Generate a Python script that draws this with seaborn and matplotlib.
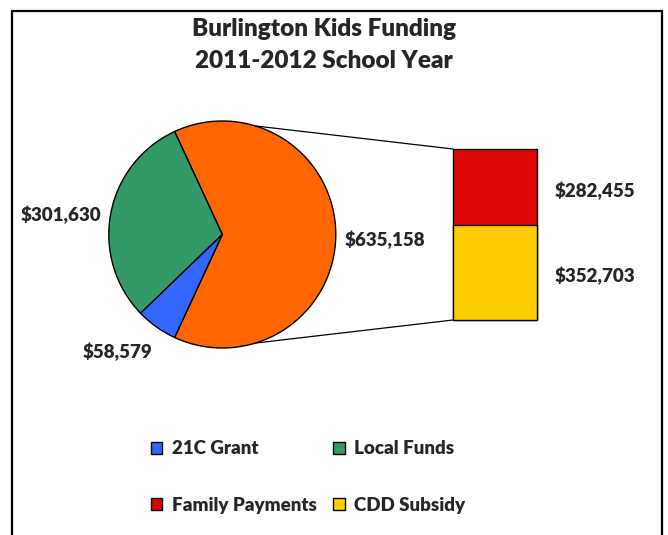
import matplotlib
matplotlib.use("Agg")
import matplotlib.pyplot as plt
from matplotlib.patches import Patch, Rectangle, ConnectionPatch
import numpy as np
import seaborn as sns

# pie slices (the "other" slice is split out in the bar)
pie_labels = ["Other", "Local Funds", "21C Grant"]
pie_values = [635158, 301630, 58579]
pie_colors = ["#FF6600", "#339966", "#3366FF"]

# bar breakdown of the "other" slice, bottom to top
bar_labels = ["CDD Subsidy", "Family Payments"]
bar_values = [352703, 282455]
bar_colors = ["#FFCC00", "#DD0806"]

title = "Burlington Kids Funding\n2011-2012 School Year"

sns.set_theme(style="white")
plt.rcParams["font.family"] = ["Lato", "DejaVu Sans"]
WEIGHT = "heavy"

W, H = 668, 535
fig = plt.figure(figsize=(W / 100, H / 100), dpi=100)
fig.patch.set_facecolor("white")


def box(x0, y0, x1, y1):
    # pixel box (top-left origin) -> figure fraction rect
    return [x0 / W, 1 - y1 / H, (x1 - x0) / W, (y1 - y0) / H]


# pie
cx, cy, r = 222.3, 234.5, 113.5
ax_pie = fig.add_axes(box(cx - r, cy - r, cx + r, cy + r))
frac_other = pie_values[0] / sum(pie_values)
ax_pie.pie(pie_values, colors=pie_colors, startangle=-180 * frac_other,
           counterclock=True, radius=1,
           wedgeprops=dict(edgecolor="black", linewidth=1.0))
ax_pie.set_xlim(-1, 1)
ax_pie.set_ylim(-1, 1)
ax_pie.set_aspect("equal")
ax_pie.axis("off")

fmt = lambda v: "${:,}".format(v)
LS = 13.5
ax_pie.text(1.43, -0.05, fmt(pie_values[0]), ha="center", va="center",
            fontsize=LS, fontweight=WEIGHT)
ax_pie.text(-1.42, 0.17, fmt(pie_values[1]), ha="center", va="center",
            fontsize=LS, fontweight=WEIGHT)
ax_pie.text(-0.92, -1.035, fmt(pie_values[2]), ha="center", va="center",
            fontsize=LS, fontweight=WEIGHT)

# stacked bar
ax_bar = fig.add_axes(box(453, 149, 537, 320))
total = sum(bar_values)
sns.barplot(x=["Other"], y=[total], color=bar_colors[1], width=1,
            saturation=1, ax=ax_bar)
sns.barplot(x=["Other"], y=[bar_values[0]], color=bar_colors[0], width=1,
            saturation=1, ax=ax_bar)
for p in ax_bar.patches:
    p.set_edgecolor("black")
    p.set_linewidth(1.0)
    p.set_clip_on(False)
ax_bar.set_xlim(-0.5, 0.5)
ax_bar.set_ylim(0, total)
ax_bar.axis("off")

trans = ax_bar.get_yaxis_transform()
bottoms = np.cumsum([0] + bar_values[:-1])
for b, v in zip(bottoms, bar_values):
    ax_bar.text(1.69, b + v / 2 - total * 0.02, fmt(v), transform=trans,
                ha="center", va="center", fontsize=LS, fontweight=WEIGHT)

# connector lines
ang = np.deg2rad(73)
for sgn, ycorner in [(1, total), (-1, 0)]:
    con = ConnectionPatch(xyA=(np.cos(ang), sgn * np.sin(ang)), coordsA=ax_pie.transData,
                          xyB=(-0.5, ycorner), coordsB=ax_bar.transData,
                          color="black", linewidth=0.9)
    fig.add_artist(con)

# title
fig.text(324 / W, 1 - 45 / H, title, ha="center", va="center",
         fontsize=17.5, fontweight=WEIGHT, linespacing=1.6)

# legend (column-major order)
items = [("21C Grant", pie_colors[2]), ("Family Payments", bar_colors[1]),
         ("Local Funds", pie_colors[1]), ("CDD Subsidy", bar_colors[0])]
handles = [Patch(facecolor=c, edgecolor="black", linewidth=1.0) for _, c in items]
fig.legend(handles, [l for l, _ in items], ncol=2, loc="center",
           bbox_to_anchor=(308 / W, 1 - 477 / H), frameon=False,
           prop=dict(size=LS, weight=WEIGHT), handlelength=0.62,
           handleheight=0.62, handletextpad=0.5, columnspacing=0.9,
           labelspacing=2.1)

# chart frame
fig.add_artist(Rectangle((12 / W, -0.05), (662 - 12) / W, 1 - 11 / H + 0.05,
                         transform=fig.transFigure, fill=False,
                         edgecolor="black", linewidth=1.6))

fig.savefig("out.png", dpi=100)
